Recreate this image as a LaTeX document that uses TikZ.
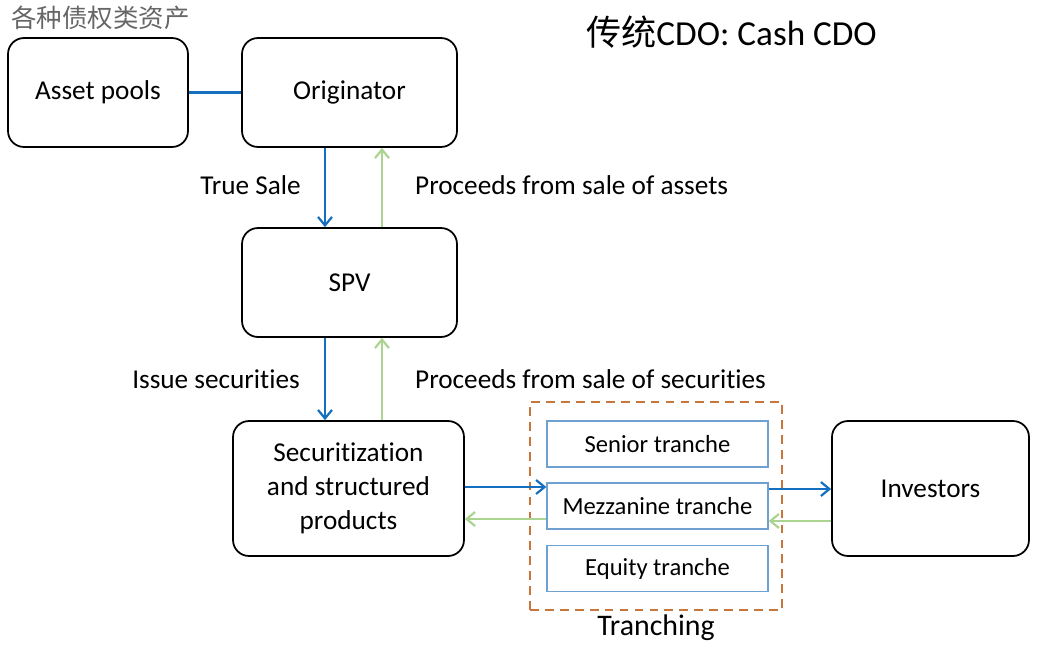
\documentclass[tikz,border=0pt]{standalone}
\usepackage{fontspec}
\setmainfont[Ligatures=NoCommon]{Carlito}
\newfontfamily\cjk{Noto Sans CJK SC}
\usepackage{xcolor}
\usetikzlibrary{arrows.meta,positioning}

\definecolor{flowblue}{RGB}{20,112,190}
\definecolor{flowgreen}{RGB}{172,212,145}
\definecolor{trancheline}{RGB}{110,160,210}
\definecolor{dashorange}{RGB}{200,118,60}

\begin{document}
\begin{tikzpicture}[
    x=0.02cm, y=-0.02cm,
    every node/.style={font=\fontsize{15.5}{19.5}\selectfont},
    party/.style={draw, line width=1pt, rounded corners=0.32cm, align=center, inner sep=0pt},
    tranche/.style={draw=trancheline, line width=0.8pt, inner sep=0pt,
        minimum width=4.42cm, minimum height=0.92cm, font=\fontsize{14}{17}\selectfont},
    bluearrow/.style={draw=flowblue, line width=1.25pt, -{Straight Barb[length=0.17cm,width=0.28cm]}},
    greenarrow/.style={draw=flowgreen, line width=1.25pt, -{Straight Barb[length=0.17cm,width=0.28cm]}}
]
\useasboundingbox (0,0) rectangle (1052,653);

% Title and note
\node[anchor=west, font=\fontsize{20}{24}\selectfont] (title) at (580,32) {{\cjk 传统}CDO: Cash CDO};
\node[anchor=west, text=black!60, font=\fontsize{14.5}{17}\cjk] (note) at (5,18) {各种债权类资产};

% Main boxes
\node[party, minimum width=3.6cm, minimum height=2.18cm] (pool) at (98,92.5) {Asset pools};
\node[party, minimum width=4.3cm, minimum height=2.18cm] (orig) at (349.5,92.5) {Originator};
\node[party, minimum width=4.3cm, minimum height=2.18cm] (spv) at (349.5,282.5) {SPV};
\node[party, minimum width=4.62cm, minimum height=2.7cm] (sec) at (348.5,488.5) {Securitization\\and structured\\products};
\node[party, minimum width=3.94cm, minimum height=2.7cm] (inv) at (930.5,488.5) {Investors};

% Tranches
\node[draw=dashorange, dashed, line width=1.1pt, dash pattern=on 5pt off 3.5pt,
      minimum width=5.04cm, minimum height=4.16cm] (tranchebox) at (656,506) {};
\node[tranche] (senior) at (657.5,444) {Senior tranche};
\node[tranche] (mezz) at (657.5,506) {Mezzanine tranche};
\node[tranche] (equity) at (657.5,568.5) {Equity tranche};
\node[font=\fontsize{17}{20}\selectfont] (tranching) at (656,628) {Tranching};

% Flows
\draw[draw=flowblue, line width=1.6pt] (pool) -- (orig);
\draw[bluearrow] ([xshift=-0.49cm]orig.south) -- ([xshift=-0.49cm]spv.north);
\draw[greenarrow] ([xshift=0.65cm]spv.north) -- ([xshift=0.65cm]orig.south);
\draw[bluearrow] ([xshift=-0.49cm]spv.south) -- ([xshift=-0.49cm]spv.south |- sec.north);
\draw[greenarrow] ([xshift=0.65cm]spv.south |- sec.north) -- ([xshift=0.65cm]spv.south);
\draw[bluearrow] ([yshift=0.38cm]mezz.west -| sec.east) -- ([yshift=0.38cm]mezz.west);
\draw[greenarrow] ([yshift=-0.26cm]mezz.west) -- ([yshift=-0.26cm]mezz.west -| sec.east);
\draw[bluearrow] ([yshift=0.34cm]mezz.east) -- ([yshift=0.34cm]mezz.east -| inv.west);
\draw[greenarrow] ([yshift=-0.3cm]mezz.east -| inv.west) -- ([yshift=-0.3cm]mezz.east);

% Flow labels
\node[anchor=east] (truesale) at (307,185) {True Sale};
\node[anchor=west] (procassets) at (409,185) {Proceeds from sale of assets};
\node[anchor=east] (issue) at (306,379) {Issue securities};
\node[anchor=west] (procsec) at (409,379) {Proceeds from sale of securities};

\end{tikzpicture}
\end{document}
